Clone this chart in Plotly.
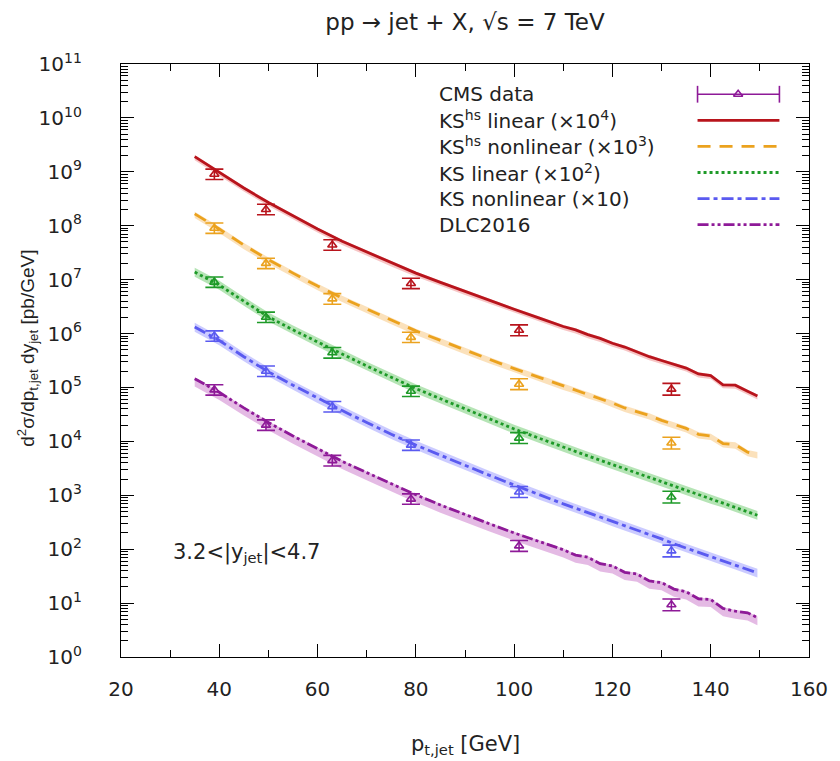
import plotly.graph_objects as go

# ---------------- data ----------------
pt_grid = [35, 40, 45, 50, 55, 60, 65, 70, 75, 80, 85, 90, 95, 100, 105, 110,
           112.5, 115, 117.5, 120, 122.5, 125, 127.5, 130, 132.5, 135, 137.5,
           140, 142.5, 145, 147.5, 149.5]

# theory curves (unscaled, pb/GeV)
ks_hs_linear = [1.91e5, 9.77e4, 5.01e4, 2.69e4, 1.51e4, 8.71e3, 5.13e3, 3.24e3,
                2.04e3, 1.32e3, 891, 603, 407, 282, 195, 135,
                117, 95.5, 81.3, 66.1, 56.2, 45.7, 37.2, 31.6, 26.9, 22.9, 17.8,
                16.6, 11.2, 11.0, 8.51, 6.92]
ks_hs_nonlinear = [1.66e5, 8.71e4, 4.37e4, 2.34e4, 1.32e4, 7.59e3, 4.57e3, 2.82e3,
                   1.78e3, 1.12e3, 741, 490, 331, 224, 155, 107,
                   91.2, 74.1, 63.1, 51.3, 41.7, 35.5, 30.2, 24.5, 20.4, 17.4, 13.5,
                   12.6, 9.12, 8.71, 6.31, 5.75]
ks_linear = [1.38e5, 7.94e4, 3.98e4, 2.04e4, 1.17e4, 6.92e3, 4.17e3, 2.51e3,
             1.55e3, 955, 617, 398, 263, 170, 115, 77.6,
             64.6, 53.7, 44.7, 37.2, 30.9, 25.7, 21.4, 17.8, 14.8, 12.3, 10.2,
             8.51, 7.24, 6.03, 5.01, 4.27]
ks_nonlinear = [1.32e5, 7.41e4, 3.72e4, 1.95e4, 1.10e4, 6.31e3, 3.72e3, 2.24e3,
                1.35e3, 851, 550, 355, 234, 155, 102, 69.2,
                57.5, 47.9, 39.8, 32.4, 26.9, 22.4, 18.6, 15.5, 12.6, 10.5, 8.91,
                7.41, 6.17, 5.13, 4.27, 3.63]
dlc2016 = [1.45e5, 8.13e4, 4.17e4, 2.24e4, 1.26e4, 7.24e3, 4.27e3, 2.63e3,
           1.62e3, 1.02e3, 661, 437, 295, 200, 138, 97.7,
           77.6, 70.8, 53.7, 49.0, 37.2, 34.7, 25.7, 24.0, 18.2, 16.2, 12.0,
           11.7, 7.94, 7.08, 6.61, 5.37]

# uncertainty band (multiplicative upper / lower factors per curve)
band_hi = [1.07, 1.10, 1.20, 1.20, 1.05]
band_lo = [0.86, 0.84, 0.82, 0.82, 0.72]

# CMS data (unscaled)
cms_pt = [39, 49.5, 63, 79, 101, 132]
cms_val = [9.0e4, 2.0e4, 4.4e3, 8.5e2, 115, 9.3]
cms_err_up = [2.2e4, 5.0e3, 1.1e3, 210, 30, 2.6]
cms_err_dn = [1.8e4, 4.0e3, 0.9e3, 170, 24, 2.1]

series_names = ["KS<sup>hs</sup> linear (\u00d710<sup>4</sup>)",
                "KS<sup>hs</sup> nonlinear (\u00d710<sup>3</sup>)",
                "KS linear (\u00d710<sup>2</sup>)",
                "KS nonlinear (\u00d710)",
                "DLC2016"]
series_scale = [1e4, 1e3, 1e2, 10, 1]
series_vals = [ks_hs_linear, ks_hs_nonlinear, ks_linear, ks_nonlinear, dlc2016]

y_tickvals = [10 ** k for k in range(12)]
y_ticktext = ["10<sup>%d</sup>" % k for k in range(12)]
y_minorvals = [m * 10 ** k for k in range(11) for m in range(2, 10)]
x_tickvals = [20, 40, 60, 80, 100, 120, 140, 160]

# ---------------- style ----------------
colors = ["#b8141c", "#eba21e", "#1e9a28", "#5a5af0", "#8e1a98"]
band_colors = ["rgba(235,110,110,0.40)", "rgba(247,195,120,0.50)",
               "rgba(120,205,120,0.55)", "rgba(160,160,255,0.55)",
               "rgba(205,130,205,0.55)"]
dashes = ["solid", "13px,9px", "3px,3px", "12px,4px,4px,4px",
          "11px,3px,3px,3px,3px,3px"]
FONT = "DejaVu Sans, Liberation Sans, Arial, sans-serif"
FONT_NARROW = "Liberation Sans, Arial, sans-serif"
TXT = "#222"

fig = go.Figure()

# bands
for vals, sc, bh, bl, bc in zip(series_vals, series_scale, band_hi, band_lo, band_colors):
    upper = [v * sc * bh for v in vals]
    lower = [v * sc * bl for v in vals]
    fig.add_trace(go.Scatter(x=pt_grid + pt_grid[::-1], y=upper + lower[::-1],
                             fill="toself", fillcolor=bc, line=dict(width=0),
                             mode="lines", hoverinfo="skip", showlegend=False))

# curves
for vals, sc, col, dsh, nm in zip(series_vals, series_scale, colors, dashes, series_names):
    fig.add_trace(go.Scatter(x=pt_grid, y=[v * sc for v in vals], mode="lines",
                             line=dict(color=col, width=2.8, dash=dsh),
                             name=nm, showlegend=False))

# data points
for sc, col in zip(series_scale, colors):
    fig.add_trace(go.Scatter(
        x=cms_pt, y=[v * sc for v in cms_val], mode="markers",
        marker=dict(symbol="triangle-up-open", size=8, color=col,
                    line=dict(width=1.6, color=col)),
        error_y=dict(type="data", symmetric=False,
                     array=[e * sc for e in cms_err_up],
                     arrayminus=[e * sc for e in cms_err_dn],
                     color=col, thickness=1.6, width=9),
        showlegend=False))

# ---------------- custom key (text left, sample right) ----------------
key_rows = [0.949, 0.905, 0.861, 0.817, 0.773, 0.729]
kx0, kx1, kxm, ktx = 0.838, 0.957, 0.897, 0.459
key_labels = ["CMS data"] + series_names
for yy, lab in zip(key_rows, key_labels):
    fig.add_annotation(x=ktx, y=yy, xref="paper", yref="paper", text=lab,
                       showarrow=False, xanchor="left", yanchor="middle",
                       font=dict(family=FONT, size=20, color=TXT))
# CMS key sample
fig.add_trace(go.Scatter(x=[kx0, kx1], y=[key_rows[0]] * 2, mode="lines+markers",
                         xaxis="x2", yaxis="y2",
                         line=dict(color=colors[4], width=1.6),
                         marker=dict(symbol="line-ns-open", size=12,
                                     line=dict(color=colors[4], width=1.6)),
                         showlegend=False, hoverinfo="skip"))
fig.add_trace(go.Scatter(x=[kxm], y=[key_rows[0]], mode="markers",
                         xaxis="x2", yaxis="y2",
                         marker=dict(symbol="triangle-up-open", size=8,
                                     color=colors[4],
                                     line=dict(width=1.6, color=colors[4])),
                         showlegend=False, hoverinfo="skip"))
for yy, col, dsh in zip(key_rows[1:], colors, dashes):
    fig.add_trace(go.Scatter(x=[kx0, kx1], y=[yy, yy], mode="lines",
                             xaxis="x2", yaxis="y2",
                             line=dict(color=col, width=2.8, dash=dsh),
                             showlegend=False, hoverinfo="skip"))

# other texts
fig.add_annotation(x=0.5, y=-0.148, xref="paper", yref="paper",
                   text="p<sub>t,jet</sub> [GeV]", showarrow=False,
                   xanchor="center", yanchor="middle",
                   font=dict(family=FONT, size=21, color=TXT))
fig.add_annotation(x=-0.135, y=0.52, xref="paper", yref="paper",
                   text="d<sup>2</sup>\u03c3/dp<sub>t,jet</sub> dy<sub>jet</sub> [pb/GeV]",
                   textangle=-90, showarrow=False,
                   xanchor="center", yanchor="middle",
                   font=dict(family=FONT_NARROW, size=19, color=TXT))
fig.add_annotation(x=0.073, y=0.175, xref="paper", yref="paper",
                   text="3.2<|y<sub>jet</sub>|<4.7", showarrow=False,
                   xanchor="left", yanchor="middle",
                   font=dict(family=FONT, size=21, color=TXT))

axis_common = dict(showline=True, linecolor="black", linewidth=1.3, mirror="allticks",
                   ticks="inside", tickcolor="black", tickwidth=1.3,
                   showgrid=False, zeroline=False,
                   tickfont=dict(family=FONT, size=20, color=TXT))

fig.update_layout(
    width=840, height=761,
    margin=dict(l=121, r=28, t=64, b=104),
    plot_bgcolor="white", paper_bgcolor="white",
    title=dict(text="pp \u2192 jet + X, \u221as = 7 TeV", x=0.5, xref="paper",
               xanchor="center", y=1 - 22 / 761, yanchor="middle",
               font=dict(family=FONT, size=23, color=TXT)),
    xaxis=dict(range=[20, 160], tickvals=x_tickvals, ticklen=13,
               ticklabelstandoff=14,
               minor=dict(dtick=10, tick0=20, ticks="inside", ticklen=7,
                          tickcolor="black", tickwidth=1.3, showgrid=False),
               **axis_common),
    yaxis=dict(type="log", range=[0, 11], tickvals=y_tickvals, ticktext=y_ticktext,
               ticklen=13, ticklabelstandoff=34,
               minor=dict(tickvals=y_minorvals, ticks="inside", ticklen=7,
                          tickcolor="black", tickwidth=1.0, showgrid=False),
               **axis_common),
    xaxis2=dict(overlaying="x", range=[0, 1], visible=False, anchor="y2"),
    yaxis2=dict(overlaying="y", range=[0, 1], visible=False, anchor="x2"),
    showlegend=False,
)

fig.write_html("out.html")
